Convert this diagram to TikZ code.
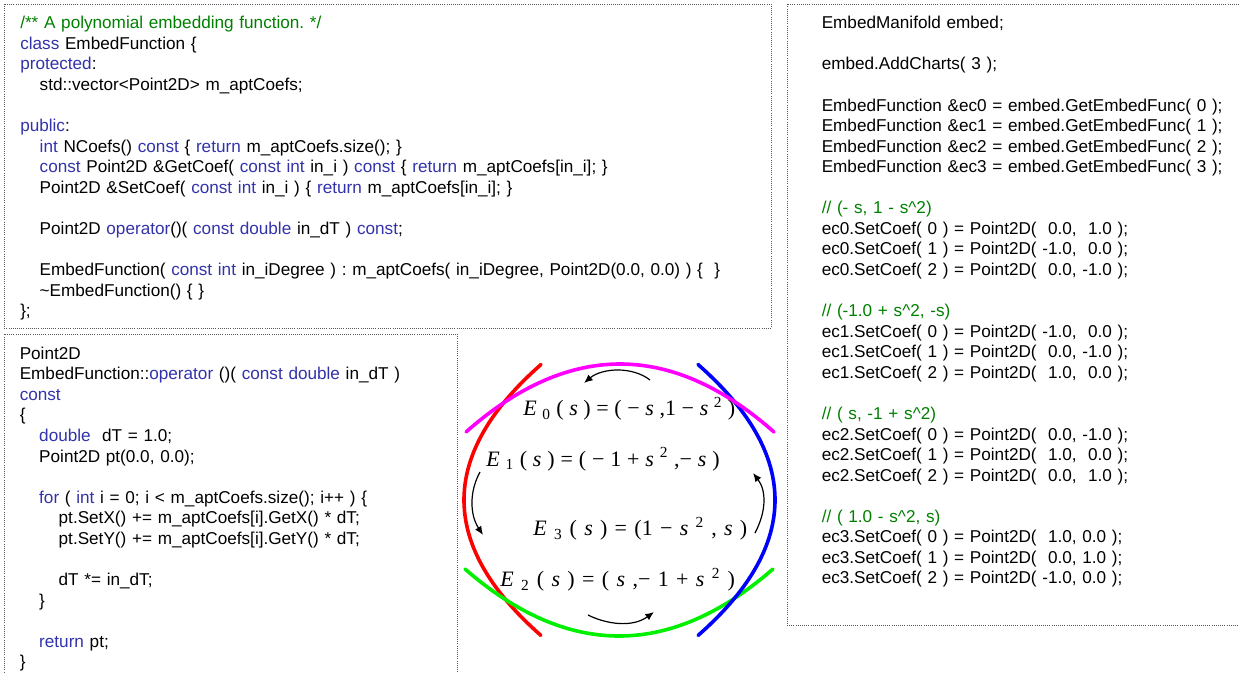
\documentclass[tikz,border=0pt]{standalone}
\usepackage{fontspec}
\setmainfont{Liberation Sans}
\newfontfamily\eqfont{Liberation Serif}
\usepackage{xcolor}
\usepackage{tikz}
\usetikzlibrary{arrows.meta}

\definecolor{kwblue}{RGB}{50,50,170}
\definecolor{cmtgreen}{RGB}{0,128,0}
\definecolor{chartmagenta}{RGB}{255,0,255}
\definecolor{chartgreen}{RGB}{0,240,0}
\newcommand{\kw}[1]{\textcolor{kwblue}{#1}}
\newcommand{\cmt}[1]{\textcolor{cmtgreen}{#1}}
\newcommand{\ind}{\hspace*{14.6pt}}
\frenchspacing

\begin{document}
\begin{tikzpicture}[
        x=0.75pt, y=-0.75pt,
        frame/.style={densely dotted, line width=0.6pt, black!65},
        code/.style={inner sep=0, anchor=base west, text width=560pt, align=left,
            font=\fontsize{12.86}{15.42}\selectfont},
        eqlabel/.style={inner sep=0, anchor=base west, font=\eqfont\fontsize{16.5}{19}\selectfont},
        chart/.style={line width=2.7pt, line cap=round},
        flow/.style={-{Latex[length=6.5pt,width=5.5pt]}, line width=0.9pt}
    ]
    \useasboundingbox (0,0) rectangle (1239,672);

    % Frames
    \draw[frame] (4,4) rectangle (771,328);
    \draw[frame] (457,672) -- (457,334) -- (4,334) -- (4,672);
    \draw[frame] (1239,4) -- (787,4) -- (787,625) -- (1239,625);

    % Class declaration
    \node[code] (classdecl) at (20,28.8) {%
        \cmt{/** A polynomial embedding function. */}\\
        \kw{class} EmbedFunction \{\\
        \kw{protected}:\\
        \ind std::vector<Point2D> m\_aptCoefs;\\[\baselineskip]
        \kw{public}:\\
        \ind \kw{int} NCoefs() \kw{const} \{ \kw{return} m\_aptCoefs.size(); \}\\
        \ind \kw{const} Point2D \&GetCoef( \kw{const int} in\_i ) \kw{const} \{ \kw{return} m\_aptCoefs[in\_i]; \}\\
        \ind Point2D \&SetCoef( \kw{const int} in\_i ) \{ \kw{return} m\_aptCoefs[in\_i]; \}\\[\baselineskip]
        \ind Point2D \kw{operator}()( \kw{const double} in\_dT ) \kw{const};\\[\baselineskip]
        \ind EmbedFunction( \kw{const int} in\_iDegree ) : m\_aptCoefs( in\_iDegree, Point2D(0.0, 0.0) ) \{\ \ \}\\
        \ind \textasciitilde EmbedFunction() \{ \}\\
        \};};

    % Evaluation operator
    \node[code] (opdef) at (19.5,359.3) {%
        Point2D\\
        EmbedFunction::\kw{operator} ()( \kw{const double} in\_dT )\\
        \kw{const}\\
        \{\\
        \ind \kw{double}\ \ dT = 1.0;\\
        \ind Point2D pt(0.0, 0.0);\\[\baselineskip]
        \ind \kw{for} ( \kw{int} i = 0; i < m\_aptCoefs.size(); i++ ) \{\\
        \ind\ind pt.SetX() += m\_aptCoefs[i].GetX() * dT;\\
        \ind\ind pt.SetY() += m\_aptCoefs[i].GetY() * dT;\\[\baselineskip]
        \ind\ind dT *= in\_dT;\\
        \ind \}\\[\baselineskip]
        \ind \kw{return} pt;\\
        \}};

    % Chart setup
    \node[code] (setup) at (821.5,28.8) {%
        EmbedManifold embed;\\[\baselineskip]
        embed.AddCharts( 3 );\\[\baselineskip]
        EmbedFunction \&ec0 = embed.GetEmbedFunc( 0 );\\
        EmbedFunction \&ec1 = embed.GetEmbedFunc( 1 );\\
        EmbedFunction \&ec2 = embed.GetEmbedFunc( 2 );\\
        EmbedFunction \&ec3 = embed.GetEmbedFunc( 3 );\\[\baselineskip]
        \cmt{// (- s, 1 - s\textasciicircum 2)}\\
        ec0.SetCoef( 0 ) = Point2D(\ \ 0.0,\ \ 1.0 );\\
        ec0.SetCoef( 1 ) = Point2D( -1.0,\ \ 0.0 );\\
        ec0.SetCoef( 2 ) = Point2D(\ \ 0.0, -1.0 );\\[\baselineskip]
        \cmt{// (-1.0 + s\textasciicircum 2, -s)}\\
        ec1.SetCoef( 0 ) = Point2D( -1.0,\ \ 0.0 );\\
        ec1.SetCoef( 1 ) = Point2D(\ \ 0.0, -1.0 );\\
        ec1.SetCoef( 2 ) = Point2D(\ \ 1.0,\ \ 0.0 );\\[\baselineskip]
        \cmt{// ( s, -1 + s\textasciicircum 2)}\\
        ec2.SetCoef( 0 ) = Point2D(\ \ 0.0, -1.0 );\\
        ec2.SetCoef( 1 ) = Point2D(\ \ 1.0,\ \ 0.0 );\\
        ec2.SetCoef( 2 ) = Point2D(\ \ 0.0,\ \ 1.0 );\\[\baselineskip]
        \cmt{// ( 1.0 - s\textasciicircum 2, s)}\\
        ec3.SetCoef( 0 ) = Point2D(\ \ 1.0, 0.0 );\\
        ec3.SetCoef( 1 ) = Point2D(\ \ 0.0, 1.0 );\\
        ec3.SetCoef( 2 ) = Point2D( -1.0, 0.0 );};

    % The four parabolic charts
    \draw[chart, red] plot[domain=-1:1, samples=40, smooth, variable=\s] ({464+77*\s*\s}, {500+135.5*\s});
    \draw[chart, chartgreen] plot[domain=-1:1, samples=40, smooth, variable=\s] ({619+154*\s}, {636-67*\s*\s});
    \draw[chart, blue] plot[domain=-1:1, samples=40, smooth, variable=\s] ({775-77*\s*\s}, {500+135.5*\s});
    \draw[chart, chartmagenta] plot[domain=-1:1, samples=40, smooth, variable=\s] ({620-154*\s}, {364+68*\s*\s});

    % Chart formulas
    \node[eqlabel] (e0) at (523,415.7) {\hbox to 159pt{\textit{E}\hfil\textsubscript{0}\hfil(\hfil\textit{s}\hfil)\hfil=\hfil(\hfil−\hfil\textit{s}\hfil,1\hfil−\hfil\textit{s}\hfil\textsuperscript{2}\hfil)}};
    \node[eqlabel] (e1) at (486,466) {\hbox to 175pt{\textit{E}\hfil\textsubscript{1}\hfil(\hfil\textit{s}\hfil)\hfil=\hfil(\hfil−\hfil1\hfil+\hfil\textit{s}\hfil\textsuperscript{2}\hfil,−\hfil\textit{s}\hfil)}};
    \node[eqlabel] (e3) at (533,535.7) {\hbox to 160.5pt{\textit{E}\hfil\textsubscript{3}\hfil(\hfil\textit{s}\hfil)\hfil=\hfil(1\hfil−\hfil\textit{s}\hfil\textsuperscript{2}\hfil,\hfil\textit{s}\hfil)}};
    \node[eqlabel] (e2) at (500,586.7) {\hbox to 176pt{\textit{E}\hfil\textsubscript{2}\hfil(\hfil\textit{s}\hfil)\hfil=\hfil(\hfil\textit{s}\hfil,−\hfil1\hfil+\hfil\textit{s}\hfil\textsuperscript{2}\hfil)}};

    % Direction of travel
    \draw[flow] (650,380) .. controls (632,366) and (602,368) .. (584,383);
    \draw[flow] (480,472) .. controls (469,492) and (470,515) .. (483,535);
    \draw[flow] (755,533) .. controls (767,510) and (766,490) .. (753,473);
    \draw[flow] (588,615) .. controls (606,624) and (632,628) .. (654,612);
\end{tikzpicture}
\end{document}
